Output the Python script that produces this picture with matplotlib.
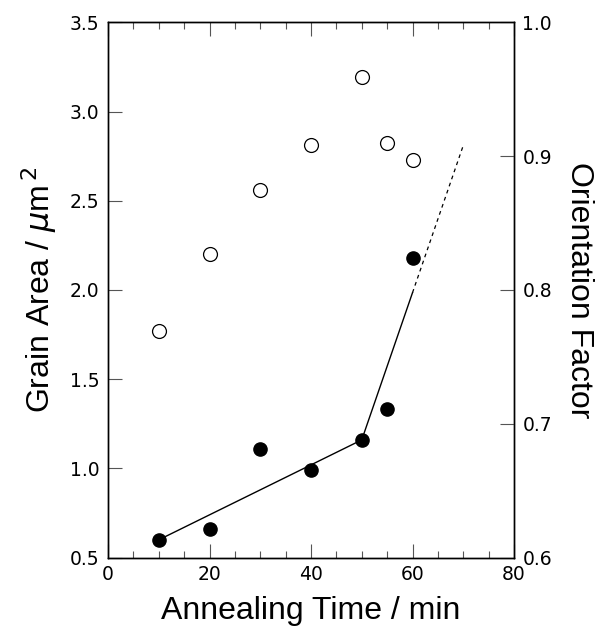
import matplotlib
matplotlib.use('Agg')
import matplotlib.pyplot as plt
from matplotlib.ticker import MultipleLocator, FormatStrFormatter

# annealing time (min)
time = [10, 20, 30, 40, 50, 55, 60]
# filled circles, left axis
grain_area = [0.60, 0.663, 1.108, 0.992, 1.160, 1.332, 2.178]
# open circles, right axis
orientation = [0.769, 0.827, 0.875, 0.908, 0.959, 0.910, 0.897]

# guide lines through the grain area data
fit_time = [10, 50, 60]
fit_area = [0.60, 1.160, 1.985]
extra_time = [60, 70]
extra_area = [1.985, 2.81]

label_font = 'Liberation Sans'
plt.rcParams['font.family'] = 'DejaVu Sans'
plt.rcParams['mathtext.fontset'] = 'dejavusans'

fig = plt.figure(figsize=(6, 6.32), dpi=100)
ax = fig.add_axes([0.18, 0.1176, 0.6767, 0.8471])
ax2 = ax.twinx()

ax.plot(fit_time, fit_area, color='black', lw=1.0, zorder=2)
ax.plot(extra_time, extra_area, color='black', lw=0.9, ls=(0, (3, 3)), zorder=2)
ax.plot(time, grain_area, 'o', color='black', ms=9.5, zorder=3)
ax2.plot(time, orientation, 'o', mfc='white', mec='black', mew=0.9, ms=10)

ax.set_xlim(0, 80)
ax.set_ylim(0.5, 3.5)
ax2.set_ylim(0.6, 1.0)

ax.xaxis.set_major_locator(MultipleLocator(20))
ax.xaxis.set_minor_locator(MultipleLocator(5))
ax.yaxis.set_major_locator(MultipleLocator(0.5))
ax2.yaxis.set_major_locator(MultipleLocator(0.1))
ax.yaxis.set_major_formatter(FormatStrFormatter('%.1f'))
ax2.yaxis.set_major_formatter(FormatStrFormatter('%.1f'))

for a in (ax, ax2):
    a.tick_params(which='major', direction='in', length=10, width=0.8,
                  color='#555555', labelsize=13.5, pad=6)
    a.tick_params(which='minor', direction='in', length=5, width=0.8,
                  color='#555555')
    for s in a.spines.values():
        s.set_linewidth(1.0)
ax.tick_params(which='both', top=True)
ax.tick_params(axis='x', pad=5)

ax.set_xlabel('Annealing Time / min', fontsize=23, family=label_font, labelpad=9)
ax.set_ylabel(r'Grain Area / $\mu$m$^{\,2}$', fontsize=23, family=label_font, labelpad=8)
ax2.set_ylabel('Orientation Factor', fontsize=23, family=label_font,
               rotation=270, labelpad=30)

fig.savefig('out.png', dpi=100)
